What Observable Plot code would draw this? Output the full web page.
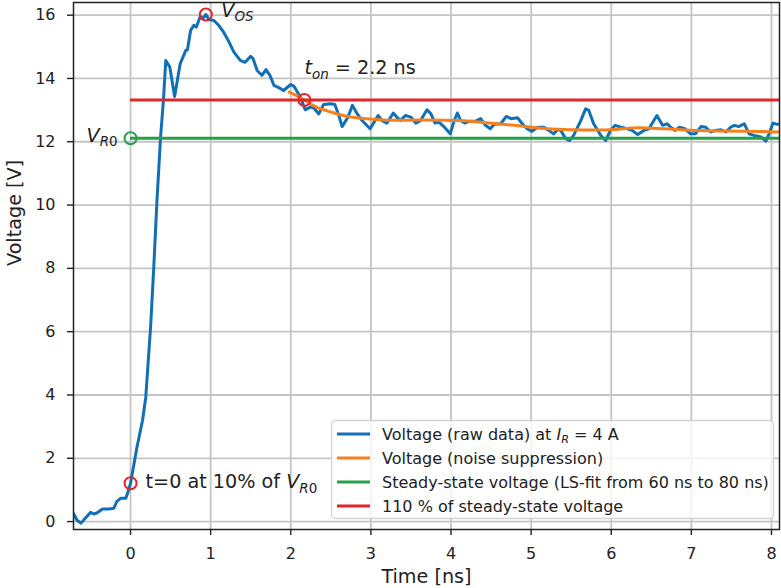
<!DOCTYPE html>
<html>
<head>
<meta charset="utf-8">
<script src="https://cdn.jsdelivr.net/npm/d3@7"></script>
<script src="https://cdn.jsdelivr.net/npm/@observablehq/plot@0.6"></script>
<style>
  body { margin: 0; background: #fff; }
  #chart svg { display: block; font-family: "DejaVu Sans", sans-serif; }
  #chart text { white-space: pre; }
</style>
</head>
<body>
<div id="chart"></div>
<script>
// Raw turn-on transient (time in ns, voltage in V)
const rawTime = [
  -0.71, -0.67, -0.62, -0.56, -0.50, -0.46, -0.42, -0.35, -0.27, -0.21, -0.17, -0.12, -0.06, -0.04,
  0.00, 0.08, 0.15, 0.19, 0.25, 0.29, 0.33, 0.375, 0.41, 0.44, 0.49, 0.55, 0.62, 0.69, 0.71, 0.75,
  0.79, 0.82, 0.87, 0.90, 0.94, 0.98, 1.04, 1.10, 1.16, 1.23, 1.29, 1.37, 1.43, 1.50, 1.53, 1.58,
  1.64, 1.69, 1.74, 1.79, 1.85, 1.91, 2.00, 2.04, 2.06, 2.12, 2.18, 2.25, 2.29, 2.35, 2.41, 2.50,
  2.55, 2.60, 2.64, 2.71, 2.77, 2.83, 2.89, 2.99, 3.04, 3.09, 3.14, 3.20, 3.28, 3.33, 3.37, 3.43,
  3.50, 3.56, 3.62, 3.70, 3.75, 3.80, 3.85, 3.91, 3.99, 4.04, 4.08, 4.12, 4.17, 4.24, 4.31, 4.37,
  4.43, 4.49, 4.54, 4.62, 4.69, 4.75, 4.83, 4.89, 4.95, 5.01, 5.08, 5.16, 5.22, 5.28, 5.33, 5.37,
  5.43, 5.48, 5.53, 5.62, 5.68, 5.72, 5.78, 5.87, 5.93, 5.99, 6.05, 6.12, 6.20, 6.26, 6.33, 6.41,
  6.47, 6.57, 6.64, 6.70, 6.74, 6.80, 6.85, 6.92, 6.99, 7.05, 7.12, 7.18, 7.24, 7.30, 7.37, 7.43,
  7.49, 7.54, 7.59, 7.66, 7.72, 7.78, 7.87, 7.93, 7.97, 8.02, 8.07, 8.11
];
const rawVolts = [
  0.25, 0.05, -0.05, 0.12, 0.29, 0.24, 0.27, 0.40, 0.40, 0.42, 0.64, 0.74, 0.74, 0.87,
  1.21, 2.35, 3.20, 3.93, 6.14, 8.04, 10.15, 12.15, 13.30, 14.57, 14.36, 13.43, 14.47, 14.89, 14.90, 15.52,
  15.68, 15.62, 15.96, 15.89, 16.02, 15.86, 15.83, 15.68, 15.47, 15.15, 14.83, 14.57, 14.51, 14.70, 14.62, 14.25,
  14.10, 14.28, 14.10, 13.78, 13.71, 13.62, 13.81, 13.75, 13.67, 13.41, 13.01, 13.10, 13.06, 12.88, 13.18, 13.20,
  13.18, 12.83, 12.48, 12.76, 13.15, 12.88, 12.67, 12.41, 12.62, 12.83, 12.67, 12.59, 12.91, 12.76, 12.67, 12.83,
  12.78, 12.59, 12.67, 13.01, 12.88, 12.59, 12.62, 12.48, 12.25, 12.67, 12.91, 12.67, 12.59, 12.65, 12.65, 12.73,
  12.52, 12.41, 12.55, 12.57, 12.80, 12.73, 12.76, 12.57, 12.41, 12.33, 12.46, 12.46, 12.36, 12.25, 12.38, 12.36,
  12.10, 12.04, 12.20, 12.67, 13.04, 12.99, 12.57, 12.20, 12.04, 12.36, 12.52, 12.46, 12.41, 12.36, 12.23, 12.36,
  12.41, 12.83, 12.52, 12.57, 12.46, 12.36, 12.46, 12.41, 12.25, 12.25, 12.48, 12.46, 12.31, 12.36, 12.38, 12.31,
  12.46, 12.52, 12.48, 12.57, 12.25, 12.20, 12.15, 12.02, 12.25, 12.59, 12.55, 12.57
];

// Noise-suppressed voltage (after the overshoot)
const smoothTime  = [1.98, 2.08, 2.17, 2.30, 2.50, 2.71, 2.95, 3.25, 3.62, 4.12, 4.37, 4.79, 5.20, 5.49, 6.00, 6.33, 6.66, 7.00, 7.32, 7.70, 8.11];
const smoothVolts = [13.57, 13.45, 13.32, 13.12, 12.94, 12.80, 12.73, 12.68, 12.69, 12.67, 12.62, 12.52, 12.41, 12.38, 12.38, 12.44, 12.41, 12.36, 12.34, 12.33, 12.31];

// Characteristic levels
const steadyState = 12.11;              // V_R0, LS-fit from 60 ns to 80 ns
const onThreshold = 1.1 * steadyState;  // 110 % of steady-state voltage

// Marked events
const startTime = 0,    startVolts = 0.1 * steadyState;   // t = 0 at 10 % of V_R0
const peakTime = 0.94,  peakVolts = 16.02;                 // V_OS
const onTime = 2.17;                                       // t_on

// Axes
const xDomain = [-0.712, 8.10];
const yDomain = [-0.25, 16.40];
const xTicks = [0, 1, 2, 3, 4, 5, 6, 7, 8];
const yTicks = [0, 2, 4, 6, 8, 10, 12, 14, 16];
const xLabel = "Time [ns]";
const yLabel = "Voltage [V]";

const legendItems = [
  [{text: "Voltage (raw data) at "}, {text: "I", italic: true}, {text: "R", italic: true, sub: true}, {text: " = 4 A"}],
  [{text: "Voltage (noise suppression)"}],
  [{text: "Steady-state voltage (LS-fit from 60 ns to 80 ns)"}],
  [{text: "110 % of steady-state voltage"}]
];

const blue = "#1170b5", orange = "#f7801e", green = "#26a048", red = "#e0262b";
const ink = "#222";

const raw = rawTime.map((t, i) => ({t, v: rawVolts[i]}));
const smooth = smoothTime.map((t, i) => ({t, v: smoothVolts[i]}));
const redMarks = [
  {t: startTime, v: startVolts},
  {t: peakTime, v: peakVolts},
  {t: onTime, v: onThreshold}
];
const greenMarks = [{t: 0, v: steadyState}];

const W = 781, H = 588;
const M = {left: 73, right: 2, top: 2, bottom: 59};
const labelSize = 19.2;
const tickSize = 16;

const plot = Plot.plot({
  width: W,
  height: H,
  marginLeft: M.left, marginRight: M.right, marginTop: M.top, marginBottom: M.bottom,
  style: {fontFamily: "DejaVu Sans, sans-serif", fontSize: "16px", color: ink, background: "#fff"},
  x: {domain: xDomain, label: null},
  y: {domain: yDomain, label: null},
  marks: [
    Plot.gridX(xTicks, {stroke: "#c4c4c4", strokeOpacity: 1, strokeWidth: 1.8}),
    Plot.gridY(yTicks, {stroke: "#c4c4c4", strokeOpacity: 1, strokeWidth: 1.8}),
    Plot.line(raw, {x: "t", y: "v", stroke: blue, strokeWidth: 3, strokeLinejoin: "round", clip: true}),
    Plot.line(smooth, {x: "t", y: "v", stroke: orange, strokeWidth: 3, curve: "catmull-rom", clip: true}),
    Plot.ruleY([steadyState], {x1: 0, x2: xDomain[1], stroke: green, strokeWidth: 3, clip: true}),
    Plot.ruleY([onThreshold], {x1: 0, x2: xDomain[1], stroke: red, strokeWidth: 3, clip: true}),
    Plot.dot(greenMarks, {x: "t", y: "v", r: 6, stroke: green, strokeWidth: 2, fill: "none"}),
    Plot.dot(redMarks, {x: "t", y: "v", r: 6, stroke: red, strokeWidth: 2, fill: "none"}),
    Plot.frame({stroke: ink, strokeWidth: 1.5}),
    Plot.axisX(xTicks, {tickSize: 6, tickPadding: 12, strokeWidth: 1.4, fontSize: tickSize, label: null}),
    Plot.axisY(yTicks, {tickSize: 6, tickPadding: 12, strokeWidth: 1.4, fontSize: tickSize, label: null}),
    Plot.text([xLabel], {frameAnchor: "bottom", dy: 53.3, fontSize: labelSize, fill: ink}),
    Plot.text([yLabel], {frameAnchor: "left", rotate: -90, dx: -59, fontSize: labelSize, fill: ink})
  ]
});

document.getElementById("chart").appendChild(plot);

// Scale helpers from the plot's own scales
const sxs = plot.scale("x"), sys = plot.scale("y");
const lin = s => s.apply ? (v => s.apply(v)) : d3.scaleLinear(s.domain, s.range);
const X = lin(sxs), Y = lin(sys);

const svg = d3.select(plot);

// Text with italic parts and subscripts
function richText(g, x, y, parts, size, anchor = "start") {
  const t = g.append("text")
    .attr("x", x).attr("y", y)
    .attr("font-size", size)
    .attr("text-anchor", anchor)
    .attr("fill", ink);
  const shift = size * 0.24;
  let inSub = false;
  for (const p of parts) {
    const s = t.append("tspan").text(p.text);
    if (p.italic) s.attr("font-style", "italic");
    if (p.sub) {
      s.attr("font-size", size * 0.7);
      if (!inSub) s.attr("dy", shift);
      inSub = true;
    } else if (inSub) {
      s.attr("dy", -shift);
      inSub = false;
    }
  }
  return t;
}

// Annotations next to the marked points
const notes = svg.append("g");
richText(notes, X(peakTime) + 16, Y(peakVolts) + 2.6,
  [{text: "V", italic: true}, {text: "OS", italic: true, sub: true}], labelSize);
richText(notes, X(onTime) + 0.5, Y(onThreshold) - 25,
  [{text: "t", italic: true}, {text: "on", italic: true, sub: true}, {text: " = 2.2 ns"}], labelSize);
richText(notes, X(0) - 12.5, Y(steadyState) + 4,
  [{text: "V", italic: true}, {text: "R", italic: true, sub: true}, {text: "0", sub: true}], labelSize, "end");
richText(notes, X(startTime) + 15.5, Y(startVolts) + 5.5,
  [{text: "t=0 at 10% of "}, {text: "V", italic: true}, {text: "R", italic: true, sub: true}, {text: "0", sub: true}], labelSize);

// Legend in the lower-right corner of the frame
const legendColors = [blue, orange, green, red];
const lw = 442, lh = 98;
const lx = W - M.right - 6 - lw;
const ly = H - M.bottom - 11 - lh;
const legend = svg.append("g").attr("transform", `translate(${lx},${ly})`);
legend.append("rect")
  .attr("x", 0.5).attr("y", 0.5).attr("width", lw).attr("height", lh)
  .attr("rx", 4).attr("ry", 4)
  .attr("fill", "#fff").attr("fill-opacity", 0.8)
  .attr("stroke", "#d4d4d4").attr("stroke-width", 1.3);
legendItems.forEach((parts, i) => {
  const cy = 14 + i * 24;
  legend.append("line")
    .attr("x1", 6).attr("x2", 39).attr("y1", cy).attr("y2", cy)
    .attr("stroke", legendColors[i]).attr("stroke-width", 3);
  richText(legend, 51, cy + 5.6, parts, 16);
});
</script>
</body>
</html>
